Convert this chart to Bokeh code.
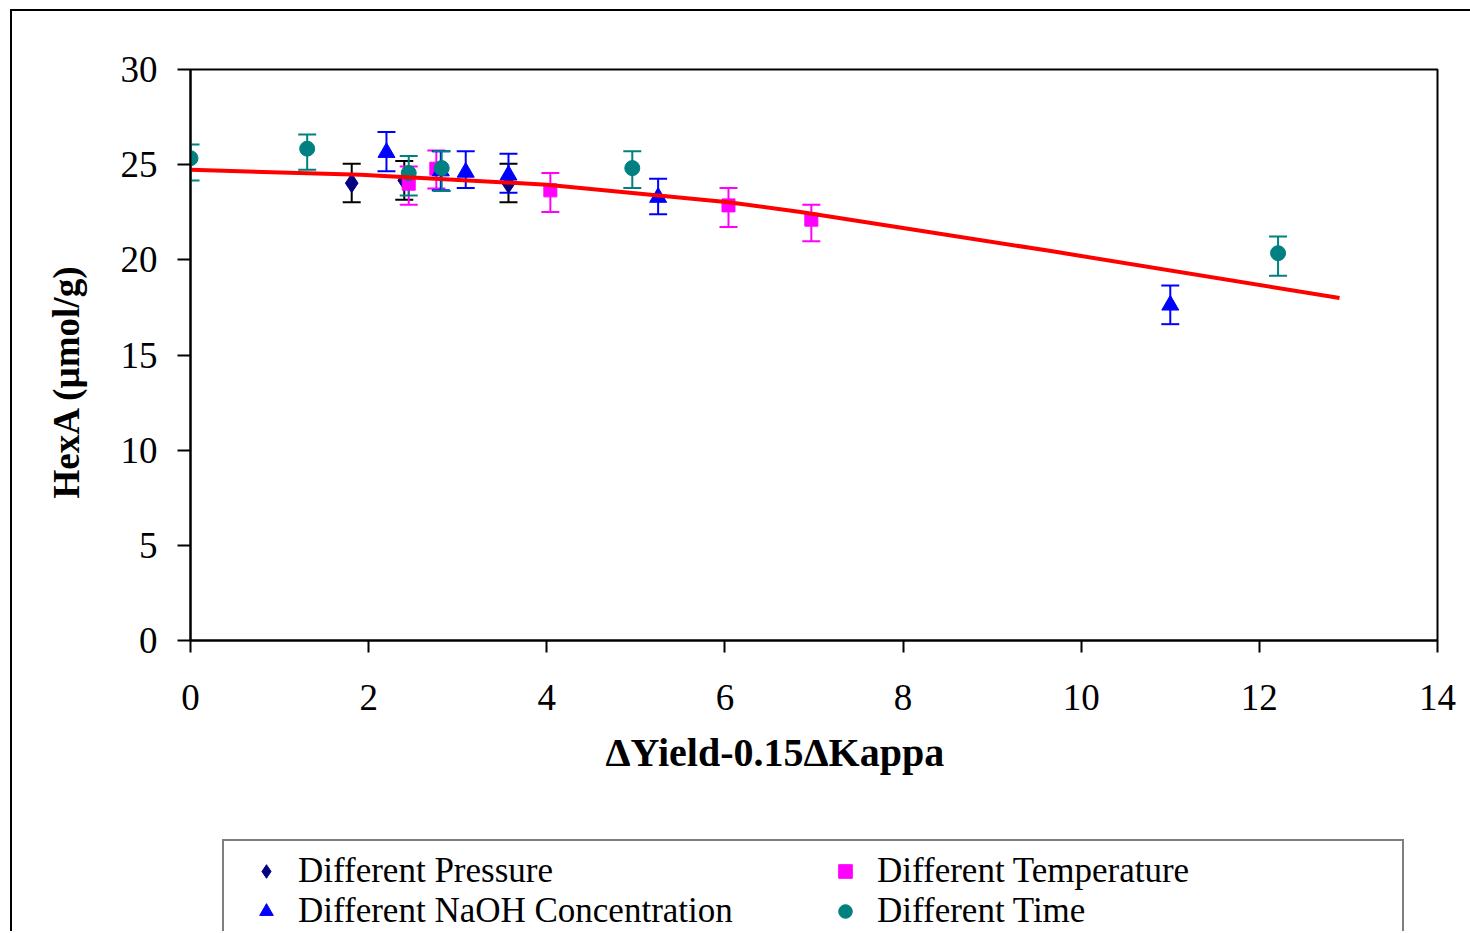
from bokeh.plotting import figure
from bokeh.layouts import column
from bokeh.models import (ColumnDataSource, Whisker, TeeHead, Legend, LegendItem,
                          FixedTicker, Title)
from bokeh.embed import file_html
from bokeh.resources import INLINE

# ---------------- data ----------------
x_ticks = [0, 2, 4, 6, 8, 10, 12, 14]
y_ticks = [0, 5, 10, 15, 20, 25, 30]

pressure_x = [1.81, 2.40, 3.57]
pressure_y = [24.03, 24.17, 24.00]
pressure_lo = [23.03, 23.16, 23.03]
pressure_hi = [25.05, 25.19, 25.05]

temp_x = [2.45, 2.76, 4.04, 6.04, 6.97]
temp_y = [24.00, 24.79, 23.65, 22.86, 22.11]
temp_lo = [22.90, 23.75, 22.51, 21.72, 20.97]
temp_hi = [24.91, 25.75, 24.56, 23.77, 22.90]

naoh_x = [2.20, 2.81, 3.09, 3.57, 5.25, 11.00]
naoh_y = [25.64, 24.67, 24.60, 24.45, 23.28, 17.62]
naoh_lo = [24.66, 23.65, 23.77, 23.53, 22.39, 16.62]
naoh_hi = [26.71, 25.70, 25.70, 25.58, 24.26, 18.65]

time_x = [0.00, 1.31, 2.45, 2.82, 4.96, 12.21]
time_y = [25.34, 25.84, 24.56, 24.82, 24.82, 20.35]
time_lo = [24.17, 24.73, 23.38, 23.61, 23.77, 19.16]
time_hi = [26.06, 26.59, 25.45, 25.70, 25.70, 21.23]

fit_x = [0.00, 1.91, 4.00, 6.04, 6.85, 8.00, 9.66, 12.90]
fit_y = [24.73, 24.47, 23.95, 23.03, 22.51, 21.67, 20.46, 17.99]

labels = ["Different Pressure", "Different Temperature",
          "Different NaOH Concentration", "Different Time"]
x_title = "\u0394Yield-0.15\u0394Kappa"
y_title = "HexA (\u00b5mol/g)"

FONT = "Liberation Serif"

p = figure(frame_width=1247, frame_height=571,
           x_range=(0, 14), y_range=(0, 30),
           output_backend="svg", toolbar_location=None,
           min_border_left=178, min_border_top=58,
           min_border_right=30, min_border_bottom=160,
           background_fill_color="white", border_fill_color="white")

p.xgrid.visible = False
p.ygrid.visible = False
p.outline_line_color = "black"
p.outline_line_width = 2
p.outline_line_alpha = 1

for ax in (p.xaxis[0], p.yaxis[0]):
    ax.axis_line_color = "black"
    ax.axis_line_width = 2
    ax.major_tick_line_color = "black"
    ax.major_tick_line_width = 2
    ax.major_tick_in = 0
    ax.minor_tick_line_color = None
    ax.major_label_text_font = FONT
    ax.major_label_text_font_size = "37px"
    ax.major_label_text_color = "black"

p.xaxis.ticker = FixedTicker(ticks=x_ticks)
p.yaxis.ticker = FixedTicker(ticks=y_ticks)
p.xaxis.major_tick_out = 12
p.yaxis.major_tick_out = 13
p.xaxis.major_label_standoff = 32
p.yaxis.major_label_standoff = 20

xt = Title(text=x_title, text_font=FONT, text_font_size="40px",
           text_font_style="bold", text_color="black",
           align="left", offset=415, standoff=30)
p.add_layout(xt, "below")
yt = Title(text=y_title, text_font=FONT, text_font_size="37px",
           text_font_style="bold", text_color="black",
           align="left", offset=142, standoff=62)
p.add_layout(yt, "left")

series = [
    (pressure_x, pressure_y, pressure_lo, pressure_hi, "diamond", "#000080", "black", 19),
    (temp_x, temp_y, temp_lo, temp_hi, "square", "#FF00FF", "#FF00FF", 13),
    (naoh_x, naoh_y, naoh_lo, naoh_hi, "triangle", "#0000FF", "#0000FF", 17),
    (time_x, time_y, time_lo, time_hi, "circle", "#008080", "#008080", 15),
]

# legend strip below the chart
p2 = figure(frame_width=1458, frame_height=131, x_range=(0, 1), y_range=(0, 1),
            output_backend="svg", toolbar_location=None,
            x_axis_location=None, y_axis_location=None,
            min_border=0, outline_line_color=None,
            background_fill_color="white", border_fill_color="white")
p2.xgrid.visible = False
p2.ygrid.visible = False

legend_renderers = []
for xs, ys, lo, hi, marker, mcol, ecol, size in series:
    src = ColumnDataSource(dict(x=xs, y=ys, lo=lo, hi=hi))
    w = Whisker(source=src, base="x", lower="lo", upper="hi",
                line_color=ecol, line_width=2,
                upper_head=TeeHead(size=18, line_color=ecol, line_width=2),
                lower_head=TeeHead(size=18, line_color=ecol, line_width=2))
    p.add_layout(w)
    p.scatter("x", "y", source=src, marker=marker, size=size,
              fill_color=mcol, line_color=mcol)
    lr = p2.scatter(x=[-5], y=[-5], marker=marker, size=size,
                    fill_color=mcol, line_color=mcol)
    legend_renderers.append(lr)

p.line(fit_x, fit_y, line_color="#FF0000", line_width=4)

items = [LegendItem(label=lab, renderers=[r]) for lab, r in zip(labels, legend_renderers)]
legend = Legend(items=items, orientation="horizontal", ncols=2,
                location=(210, -12),
                label_text_font=FONT, label_text_font_size="35px",
                label_text_color="black",
                glyph_width=64, glyph_height=34, label_height=10,
                label_standoff=0, label_width=515,
                spacing=0, padding=10, margin=0,
                border_line_color="black", border_line_width=2,
                background_fill_color="white", background_fill_alpha=1)
p2.add_layout(legend, "center")

layout = column(p, p2, spacing=0)
layout.margin = (9, 0, 0, 10)
layout.styles = {"border-left": "2px solid black", "border-top": "2px solid black"}

open("out.html", "w").write(file_html(layout, INLINE))
